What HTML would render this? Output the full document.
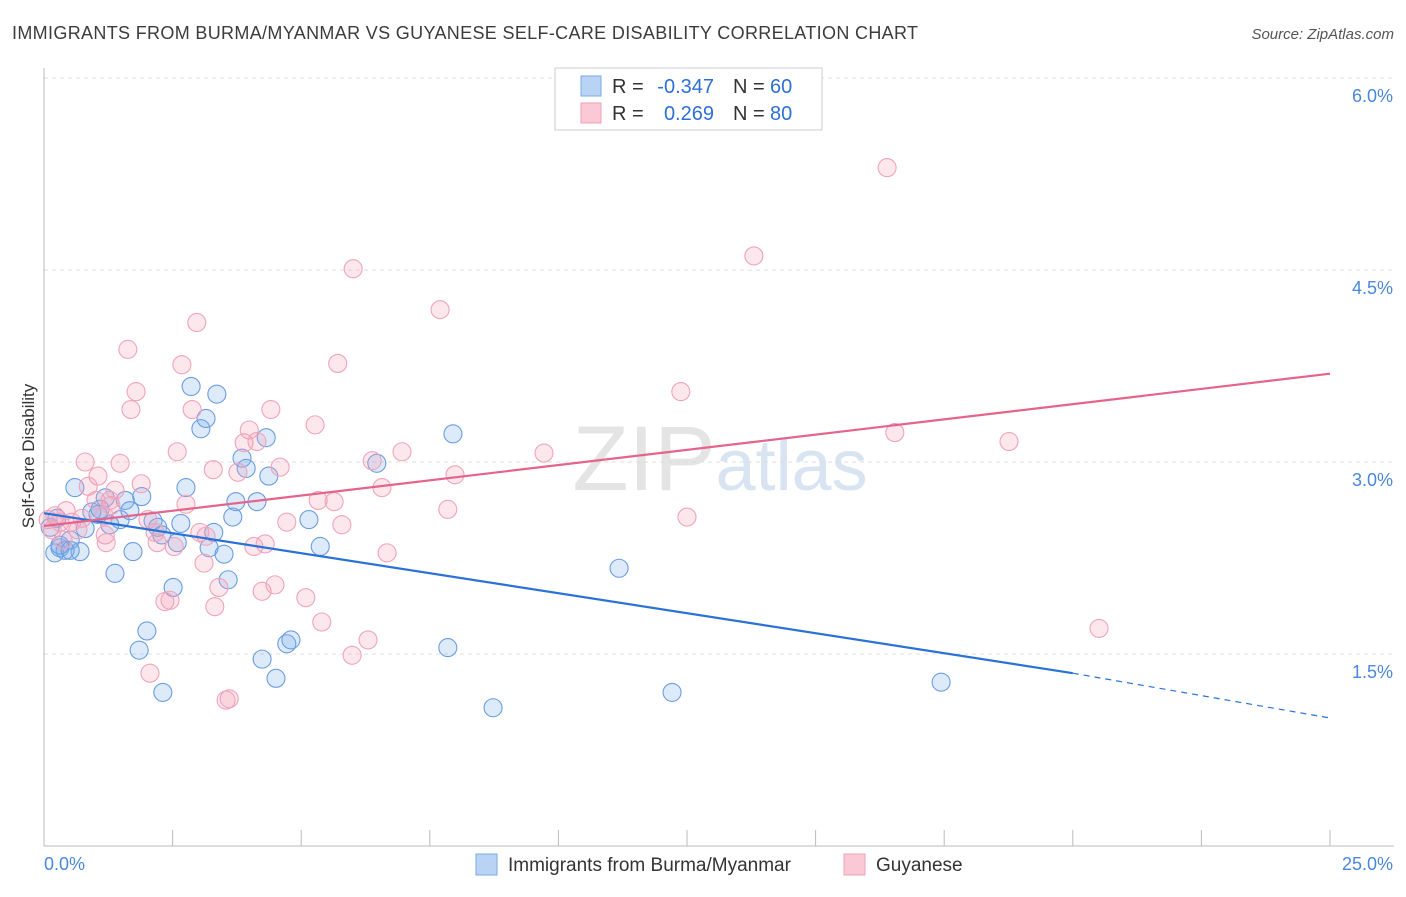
<!DOCTYPE html>
<html><head><meta charset="utf-8"><style>
body{margin:0;background:#fff;font-family:"Liberation Sans",sans-serif;}
svg text{font-family:"Liberation Sans",sans-serif;}
</style></head><body>
<svg id="chart" width="1406" height="892" xmlns="http://www.w3.org/2000/svg">
<text x="12" y="39" font-size="18" fill="#3c3c3c" textLength="906" lengthAdjust="spacing">IMMIGRANTS FROM BURMA/MYANMAR VS GUYANESE SELF-CARE DISABILITY CORRELATION CHART</text>
<text x="1394" y="39" font-size="15" fill="#555" text-anchor="end" font-style="italic">Source: ZipAtlas.com</text>
<text x="720" y="490" font-size="92" fill="#e4e4e4" text-anchor="middle" font-family="Liberation Serif">ZIP<tspan fill="#d8e4f2" font-family="Liberation Sans" font-size="72">atlas</tspan></text>
<g id="grid"></g>
<g id="axes"></g>
<g id="pts"></g>
<g id="lines"></g>
<text transform="translate(34,456) rotate(-90)" font-size="17" fill="#333" text-anchor="middle">Self-Care Disability</text>
<g>
<rect x="555" y="68" width="267" height="62" fill="#fff" stroke="#ccc"/>
<rect x="581" y="76" width="20" height="20" fill="#b9d3f5" stroke="#7aa8e8"/>
<rect x="581" y="103" width="20" height="20" fill="#fbc8d6" stroke="#f0a0b8"/>
<text x="612" y="93" font-size="20" fill="#333">R =</text>
<text x="714" y="93" font-size="20" fill="#2d6fd6" text-anchor="end">-0.347</text>
<text x="733" y="93" font-size="20" fill="#333">N =</text>
<text x="770" y="93" font-size="20" fill="#2d6fd6">60</text>
<text x="612" y="120" font-size="20" fill="#333">R =</text>
<text x="714" y="120" font-size="20" fill="#2d6fd6" text-anchor="end">0.269</text>
<text x="733" y="120" font-size="20" fill="#333">N =</text>
<text x="770" y="120" font-size="20" fill="#2d6fd6">80</text>
</g>
<g>
<rect x="476" y="854" width="21" height="21" fill="#b9d3f5" stroke="#7aa8e8"/>
<text x="508" y="871" font-size="19" fill="#333">Immigrants from Burma/Myanmar</text>
<rect x="844" y="854" width="21" height="21" fill="#fbc8d6" stroke="#f0a0b8"/>
<text x="876" y="871" font-size="19" fill="#333">Guyanese</text>
</g>
</svg>
<script>
const xTicks=[0,2.5,5,7.5,10,12.5,15,17.5,20,22.5,25];
const yTicks=[1.5,3.0,4.5,6.0];
const yTickLabels=["1.5%","3.0%","4.5%","6.0%"];
const blueX=[0.12,0.21,0.31,0.41,0.51,0.6,0.7,0.8,0.93,1.05,1.19,1.28,1.38,1.48,1.58,1.67,1.73,1.9,2.0,1.85,2.12,2.21,2.29,2.31,2.51,2.59,2.66,2.76,2.86,3.05,3.15,3.21,3.3,3.36,3.5,3.58,3.67,3.73,3.85,3.93,4.14,4.24,4.32,4.37,4.51,4.72,4.8,5.15,5.37,6.47,7.85,7.95,8.73,11.18,12.21,17.44,0.31,1.09,0.25,0.51];
const blueY=[2.49,2.29,2.33,2.31,2.39,2.8,2.3,2.48,2.61,2.59,2.72,2.51,2.13,2.55,2.7,2.62,2.3,2.73,1.68,1.53,2.54,2.49,2.43,1.2,2.02,2.37,2.52,2.8,3.59,3.26,3.34,2.33,2.45,3.53,2.28,2.08,2.57,2.69,3.03,2.95,2.69,1.46,3.19,2.89,1.31,1.58,1.61,2.55,2.34,2.99,1.55,3.22,1.08,2.17,1.2,1.28,2.35,2.63,2.56,2.31];
const pinkX=[0.08,0.16,0.21,0.31,0.37,0.54,0.66,0.8,0.86,1.05,1.17,1.19,1.21,1.3,1.38,1.48,1.63,1.69,1.79,1.89,2.02,2.06,2.16,2.2,2.35,2.45,2.53,2.59,2.68,2.76,2.88,2.97,3.03,3.11,3.15,3.29,3.32,3.4,3.54,3.6,3.77,3.89,3.99,4.08,4.14,4.24,4.3,4.41,4.49,4.59,4.72,5.09,5.27,5.33,5.4,5.64,5.71,5.79,6.01,5.99,6.3,6.38,6.57,6.67,6.96,7.7,7.85,7.99,9.72,12.38,12.5,13.8,16.39,16.54,18.76,20.51,1.01,0.43,0.74,1.28];
const pinkY=[2.55,2.47,2.58,2.53,2.39,2.53,2.47,3.0,2.81,2.89,2.58,2.43,2.37,2.66,2.78,2.99,3.88,3.41,3.55,2.83,2.55,1.35,2.45,2.37,1.91,1.92,2.34,3.08,3.76,2.67,3.41,4.09,2.45,2.21,2.42,2.94,1.87,2.02,1.14,1.15,2.92,3.15,3.25,2.34,3.16,1.99,2.36,3.41,2.04,2.96,2.53,1.94,3.29,2.7,1.75,2.69,3.77,2.51,4.51,1.49,1.61,3.01,2.8,2.29,3.08,4.19,2.63,2.9,3.07,3.55,2.57,4.61,5.3,3.23,3.16,1.7,2.7,2.62,2.56,2.7];
const blueLine=[[0,2.6],[20,1.35],[25,1.0]];
const pinkLine=[[0,2.5],[25,3.69]];
const X=v=>44+v/25*1286, Y=v=>846-v*128;
const NS="http://www.w3.org/2000/svg";
function mk(tag,attrs,parent){const e=document.createElementNS(NS,tag);for(const k in attrs)e.setAttribute(k,attrs[k]);parent.appendChild(e);return e;}
const grid=document.getElementById('grid'),axes=document.getElementById('axes'),pts=document.getElementById('pts'),lines=document.getElementById('lines');
yTicks.forEach((t,i)=>{
 const g=mk('line',{x1:44,x2:1394,y1:Y(t),y2:Y(t),stroke:'#ddd','stroke-dasharray':'4,4'},grid);
 
 
 const l=mk('text',{x:1393,y:Y(t)+24,'font-size':18,fill:'#4a86db','text-anchor':'end'},axes);
 l.textContent=yTickLabels[i];
 
 
});
const ax=mk('line',{x1:44,x2:44,y1:68,y2:846,stroke:'#bbb'},axes);


const bx=mk('line',{x1:44,x2:1394,y1:846,y2:846,stroke:'#bbb'},axes);


xTicks.forEach(t=>{
 const tk=mk('line',{x1:X(t),x2:X(t),y1:830,y2:846,stroke:'#bbb'},axes);
 
 
});
const l0=mk('text',{x:44,y:870,'font-size':18,fill:'#4a86db'},axes);l0.textContent=xTicks[0].toFixed(1)+'%';


const l1=mk('text',{x:1393,y:870,'font-size':18,fill:'#4a86db','text-anchor':'end'},axes);l1.textContent=xTicks[xTicks.length-1].toFixed(1)+'%';


blueX.forEach((x,i)=>{
 const c=mk('circle',{cx:X(x),cy:Y(blueY[i]),r:9,fill:'rgba(120,170,235,0.25)',stroke:'#6a9de2','stroke-width':1.1},pts);
 
 
});
pinkX.forEach((x,i)=>{
 const c=mk('circle',{cx:X(x),cy:Y(pinkY[i]),r:9,fill:'rgba(245,160,185,0.25)',stroke:'#f0a3ba','stroke-width':1.1},pts);
 
 
});
const bl=mk('line',{x1:X(blueLine[0][0]),y1:Y(blueLine[0][1]),x2:X(blueLine[1][0]),y2:Y(blueLine[1][1]),stroke:'#2a72d8','stroke-width':2.2},lines);


const bd=mk('line',{x1:X(blueLine[1][0]),y1:Y(blueLine[1][1]),x2:X(blueLine[2][0]),y2:Y(blueLine[2][1]),stroke:'#2a72d8','stroke-width':1.2,'stroke-dasharray':'6,5'},lines);


const pl=mk('line',{x1:X(pinkLine[0][0]),y1:Y(pinkLine[0][1]),x2:X(pinkLine[1][0]),y2:Y(pinkLine[1][1]),stroke:'#e4648c','stroke-width':2.2},lines);


</script>
</body></html>
